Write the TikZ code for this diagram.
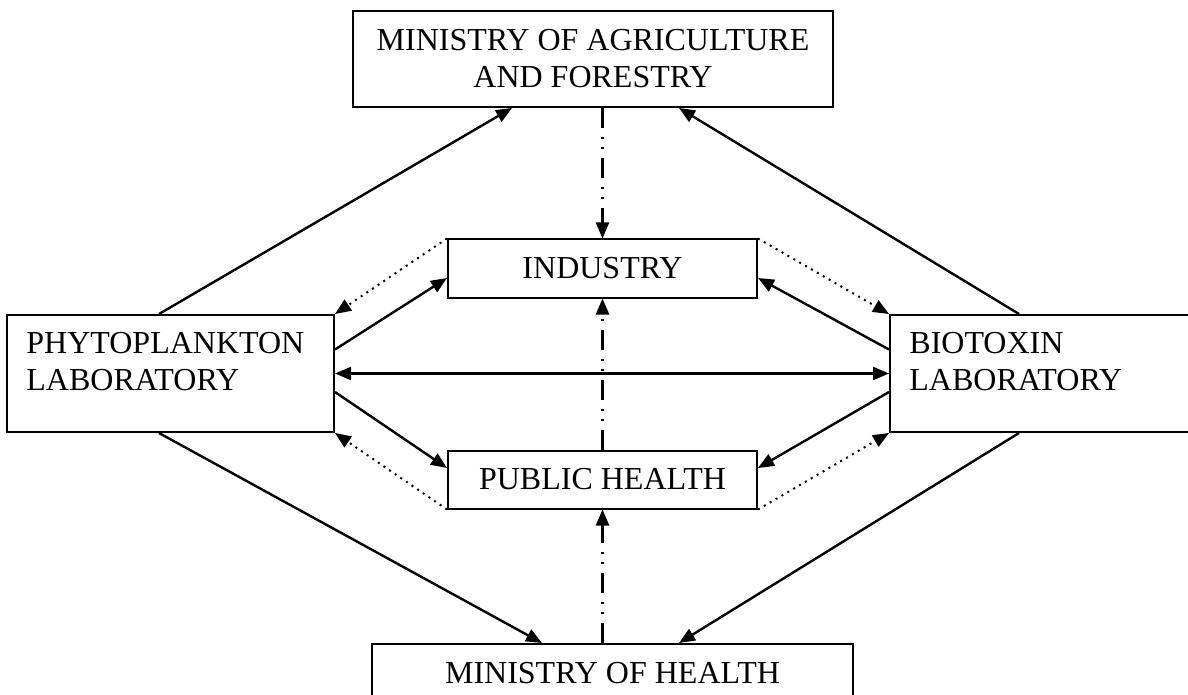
\documentclass[tikz,border=0pt]{standalone}
\usepackage{fontspec}
\setmainfont{Liberation Serif}
\usetikzlibrary{arrows.meta,calc}

\tikzset{
  >={Triangle[length=8pt,width=6.5pt]},
  box/.style={draw, rectangle, line width=1pt, inner sep=0pt,
    font=\fontsize{16}{18.5}\selectfont},
  lab/.style={box, minimum width=163.5pt, minimum height=58.5pt},
  labtext/.style={anchor=north west, align=left, inner xsep=10pt, inner ysep=9pt,
    font=\fontsize{16}{18.5}\selectfont},
  link/.style={line width=1.2pt, ->},
  dots/.style={line width=1pt, dash pattern=on 1pt off 2.4pt, ->},
  dashdot/.style={line width=1.2pt, dash pattern=on 10pt off 4.5pt on 1pt off 4pt on 1pt off 4.5pt, ->},
}

\begin{document}
\begin{tikzpicture}[x=0.5pt,y=-0.5pt]
    \useasboundingbox (0,0) rectangle (1188,695);
    % boxes
    \node[box, minimum width=240pt, minimum height=48pt, align=center] (maf) at (593,59)
        {MINISTRY OF AGRICULTURE\\AND FORESTRY};
    \node[box, minimum width=154.5pt, minimum height=29pt] (ind) at (602.5,268.5) {INDUSTRY};
    \node[box, minimum width=154.5pt, minimum height=29pt] (ph) at (602.5,479.5) {PUBLIC HEALTH};
    \node[lab, label={[labtext]north west:PHYTOPLANKTON\\LABORATORY}] (phyto) at (170.5,373.5) {};
    \node[lab, minimum width=155pt, label={[labtext]north west:BIOTOXIN\\LABORATORY}] (bio) at (1045,373.5) {};
    \node[box, minimum width=240.5pt, anchor=north, inner ysep=9pt, text depth=30pt] (moh) at (612.5,643)
        {MINISTRY OF HEALTH};
    % laboratories to the ministries
    \draw[link] ($(phyto.north west)+(153,0)$) -- ($(maf.south west)+(160,0)$);
    \draw[link] ($(bio.north west)+(130,0)$) -- ($(maf.south west)+(327,0)$);
    \draw[link] ($(phyto.south west)+(153,0)$) -- ($(moh.north west)+(171,0)$);
    \draw[link] ($(bio.south west)+(130,0)$) -- ($(moh.north west)+(308,0)$);
    % laboratories to industry and public health
    \draw[link] ([yshift=12pt]phyto.east) -- ([yshift=-4.75pt]ind.west);
    \draw[link] ([yshift=-9.25pt]phyto.east) -- ([yshift=5.75pt]ph.west);
    \draw[link] ([yshift=12pt]bio.west) -- ([yshift=-4.75pt]ind.east);
    \draw[link] ([yshift=-9.25pt]bio.west) -- ([yshift=5.75pt]ph.east);
    \draw[link, <->] (phyto.east) -- (bio.west);
    % feedback
    \draw[dots] (ind.north west) -- (phyto.north east);
    \draw[dots] (ph.south west) -- (phyto.south east);
    \draw[dots] (ind.north east) -- (bio.north west);
    \draw[dots] (ph.south east) -- (bio.south west);
    % central axis
    \draw[dashdot] (maf.south -| ind.north) -- (ind.north);
    \draw[dashdot] (ph.north) -- (ind.south);
    \draw[dashdot] (moh.north -| ph.south) -- (ph.south);
\end{tikzpicture}
\end{document}
